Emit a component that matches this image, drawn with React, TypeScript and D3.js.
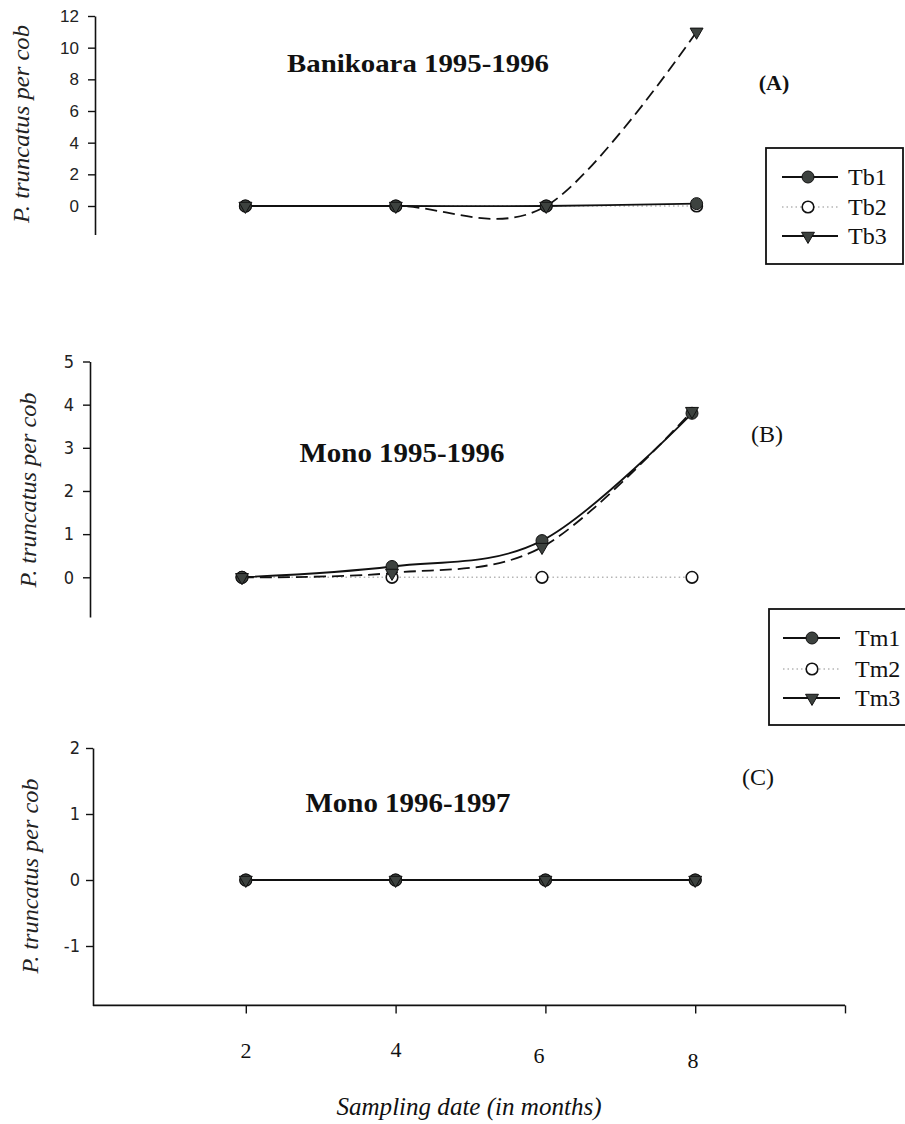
import React, { useEffect, useRef } from "react";
import * as d3 from "d3";

// ---- data ----
const months = [2, 4, 6, 8];
const tb1 = [0, 0, 0, 0.15];
const tb2 = [0, 0, 0, 0];
const tb3 = [0, 0, 0, 11];
const tm1B = [0, 0.25, 0.85, 3.8];
const tm2B = [0, 0, 0, 0];
const tm3B = [0, 0.1, 0.7, 3.85];
const tm1C = [0, 0, 0, 0];
const tm2C = [0, 0, 0, 0];
const tm3C = [0, 0, 0, 0];
const yTicksA = [0, 2, 4, 6, 8, 10, 12];
const yTicksB = [0, 1, 2, 3, 4, 5];
const yTicksC = [-1, 0, 1, 2];
const xTicks = [2, 4, 6, 8, 10];
const xTickLabels = ["2", "4", "6", "8"];
const legendA = ["Tb1", "Tb2", "Tb3"];
const legendB = ["Tm1", "Tm2", "Tm3"];
const titles = ["Banikoara 1995-1996", "Mono 1995-1996", "Mono 1996-1997"];
const panelTags = ["(A)", "(B)", "(C)"];
const yTitle = "P. truncatus per cob";
const xTitle = "Sampling date (in months)";

const SERIF = "Liberation Serif";
const SANS = "Liberation Sans";
const NARROW = "DejaVu Sans Condensed";

export default function App() {
  const ref = useRef<SVGSVGElement | null>(null);

  useEffect(() => {
    const svg = d3.select(ref.current);
    svg.selectAll("*").remove();

    const styles = [
      { stroke: "#111", width: 1.8, dash: null as string | null, marker: "filled" },
      { stroke: "#b5b5b5", width: 1.4, dash: "1.5,3", marker: "open" },
      { stroke: "#111", width: 1.8, dash: "12,6", marker: "tri" },
    ];

    const drawMarker = (g: any, kind: string, cx: number, cy: number) => {
      if (kind === "filled") {
        g.append("circle").attr("cx", cx).attr("cy", cy).attr("r", 6)
          .attr("fill", "#3d423f").attr("stroke", "#111").attr("stroke-width", 1);
      } else if (kind === "open") {
        g.append("circle").attr("cx", cx).attr("cy", cy).attr("r", 5.8)
          .attr("fill", "#fff").attr("stroke", "#111").attr("stroke-width", 1.6);
      } else {
        g.append("path")
          .attr("d", d3.symbol(d3.symbolTriangle, 72)())
          .attr("transform", `translate(${cx},${cy}) rotate(180)`)
          .attr("fill", "#3d423f").attr("stroke", "#111").attr("stroke-width", 1);
      }
    };

    type Panel = {
      xRange: [number, number];
      yDom: [number, number];
      yRange: [number, number];
      axisX: number;
      yTicks: number[];
      tickFont: string;
      tickSize: number;
      tickPad: number;
      series: number[][];
      title: string;
      titleX: number;
      titleY: number;
      titleSize: number;
      titleLen: number;
      tag: string;
      tagX: number;
      tagY: number;
      yTitleX: number;
      yTitleY: number;
      yTitleLen: number;
    };

    const panels: Panel[] = [
      {
        xRange: [95, 847], yDom: [-1.8, 12], yRange: [234.5, 16], axisX: 95,
        yTicks: yTicksA, tickFont: SANS, tickSize: 17, tickPad: 9,
        series: [tb1, tb2, tb3], title: titles[0], titleX: 418, titleY: 72, titleSize: 26, titleLen: 262,
        tag: panelTags[0], tagX: 774, tagY: 90, yTitleX: 21, yTitleY: 124, yTitleLen: 198,
      },
      {
        xRange: [92, 842], yDom: [-0.92, 5], yRange: [617, 361.5], axisX: 90,
        yTicks: yTicksB, tickFont: NARROW, tickSize: 18, tickPad: 9,
        series: [tm1B, tm2B, tm3B], title: titles[1], titleX: 402, titleY: 462, titleSize: 28, titleLen: 205,
        tag: panelTags[1], tagX: 767, tagY: 442, yTitleX: 28, yTitleY: 490, yTitleLen: 195,
      },
      {
        xRange: [96, 845], yDom: [-1.9, 2], yRange: [1005.4, 748], axisX: 93,
        yTicks: yTicksC, tickFont: NARROW, tickSize: 18, tickPad: 6,
        series: [tm1C, tm2C, tm3C], title: titles[2], titleX: 408, titleY: 812, titleSize: 27, titleLen: 205,
        tag: panelTags[2], tagX: 758, tagY: 785, yTitleX: 30, yTitleY: 876, yTitleLen: 195,
      },
    ];

    panels.forEach((p, pi) => {
      const x = d3.scaleLinear().domain([0, 10]).range(p.xRange);
      const y = d3.scaleLinear().domain(p.yDom).range(p.yRange);
      const g = svg.append("g");

      // y axis
      const ax = g.append("g").attr("transform", `translate(${p.axisX},0)`)
        .call(d3.axisLeft(y).tickValues(p.yTicks).tickSize(7).tickSizeOuter(0).tickPadding(p.tickPad)
          .tickFormat((d: any) => String(d)));
      ax.select(".domain").attr("stroke", "#111").attr("stroke-width", 1.6);
      ax.selectAll(".tick line").attr("stroke", "#111").attr("stroke-width", 1.4);
      ax.selectAll(".tick text").attr("font-family", p.tickFont).attr("font-size", p.tickSize).attr("fill", "#222");

      // x axis for bottom panel
      if (pi === 2) {
        const y0 = p.yRange[0];
        g.append("line").attr("x1", p.axisX).attr("x2", x(10)).attr("y1", y0).attr("y2", y0)
          .attr("stroke", "#111").attr("stroke-width", 1.6);
        const xa = g.append("g").attr("transform", `translate(0,${y0})`)
          .call(d3.axisBottom(x).tickValues(xTicks).tickSize(8).tickSizeOuter(0).tickFormat(() => ""));
        xa.select(".domain").remove();
        xa.selectAll(".tick line").attr("stroke", "#111").attr("stroke-width", 1.4);
        const labelPos = [[246, 1058], [396, 1057], [539, 1063], [693, 1068]];
        xTickLabels.forEach((t, i) => {
          g.append("text").attr("x", labelPos[i][0]).attr("y", labelPos[i][1])
            .attr("text-anchor", "middle").attr("font-family", SERIF).attr("font-size", 22)
            .attr("fill", "#111").text(t);
        });
        g.append("text").attr("x", 469).attr("y", 1115).attr("text-anchor", "middle")
          .attr("font-family", SERIF).attr("font-style", "italic").attr("font-size", 25)
          .attr("textLength", 265).attr("lengthAdjust", "spacingAndGlyphs")
          .attr("fill", "#111").text(xTitle);
      }

      // y title
      g.append("text")
        .attr("transform", `translate(${p.yTitleX},${p.yTitleY}) rotate(-90)`)
        .attr("text-anchor", "middle").attr("dominant-baseline", "central")
        .attr("font-family", SERIF).attr("font-style", "italic").attr("font-size", 23)
        .attr("textLength", p.yTitleLen).attr("lengthAdjust", "spacingAndGlyphs")
        .attr("fill", "#222").text(yTitle);

      // title + tag
      g.append("text").attr("x", p.titleX).attr("y", p.titleY).attr("text-anchor", "middle")
        .attr("font-family", SERIF).attr("font-weight", "bold").attr("font-size", p.titleSize)
        .attr("textLength", p.titleLen).attr("lengthAdjust", "spacingAndGlyphs")
        .attr("fill", "#111").text(p.title);
      g.append("text").attr("x", p.tagX).attr("y", p.tagY).attr("text-anchor", "middle")
        .attr("font-family", SERIF).attr("font-weight", pi === 0 ? "bold" : "normal").attr("font-size", pi === 0 ? 22 : 24)
        .attr("fill", "#111").text(p.tag);

      // lines
      const line = d3.line<number>()
        .x((_, i) => x(months[i]))
        .y((v) => y(v))
        .curve(d3.curveCardinal.tension(0));
      const order = [1, 0, 2];
      order.forEach((si) => {
        const st = styles[si];
        const path = g.append("path").attr("d", line(p.series[si]) as string)
          .attr("fill", "none").attr("stroke", st.stroke).attr("stroke-width", st.width);
        if (st.dash) path.attr("stroke-dasharray", st.dash);
      });
      // markers
      order.forEach((si) => {
        p.series[si].forEach((v, i) => drawMarker(g, styles[si].marker, x(months[i]), y(v)));
      });
    });

    // legends
    const legends = [
      { names: legendA, x: 766, y: 148, w: 137, h: 116, rows: [177, 207, 236], lx1: 782, lx2: 838, mx: 808, tx: 848 },
      { names: legendB, x: 769, y: 609, w: 140, h: 116, rows: [638, 669, 698], lx1: 783, lx2: 840, mx: 812, tx: 855 },
    ];
    legends.forEach((L) => {
      const g = svg.append("g");
      g.append("rect").attr("x", L.x).attr("y", L.y).attr("width", L.w).attr("height", L.h)
        .attr("fill", "#fff").attr("stroke", "#111").attr("stroke-width", 1.8);
      L.names.forEach((n, i) => {
        const st = styles[i];
        const ln = g.append("line").attr("x1", L.lx1).attr("x2", L.lx2).attr("y1", L.rows[i]).attr("y2", L.rows[i])
          .attr("stroke", st.stroke).attr("stroke-width", st.width);
        if (st.dash && i === 1) ln.attr("stroke-dasharray", st.dash);
        drawMarker(g, st.marker, L.mx, L.rows[i]);
        g.append("text").attr("x", L.tx).attr("y", L.rows[i] + 8).attr("font-family", SERIF)
          .attr("font-size", 24).attr("fill", "#111").text(n);
      });
    });
  }, []);

  return (
    <div style={{ position: "absolute", left: 0, top: 0, width: 905, height: 1124, background: "#fff" }}>
      <svg ref={ref} width={905} height={1124} style={{ display: "block" }} />
    </div>
  );
}
